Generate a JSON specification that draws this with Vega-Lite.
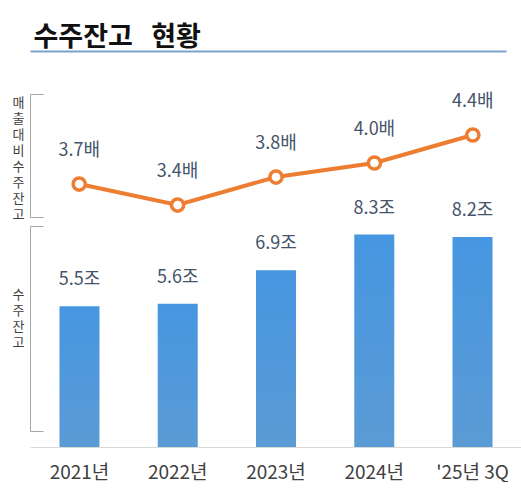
{
  "$schema": "https://vega.github.io/schema/vega-lite/v6.json",
  "autosize": {"type": "pad"},
  "padding": {"left": 12, "top": 23, "right": 0, "bottom": 0},
  "background": "white",
  "config": {"font": "Noto Sans CJK KR", "view": {"stroke": null}},
  "datasets": {
    "backlog": [
      {"year": "2021년", "backlog": 5.5, "backlog_label": "5.5조", "ratio": 3.7, "ratio_label": "3.7배"},
      {"year": "2022년", "backlog": 5.6, "backlog_label": "5.6조", "ratio": 3.4, "ratio_label": "3.4배"},
      {"year": "2023년", "backlog": 6.9, "backlog_label": "6.9조", "ratio": 3.8, "ratio_label": "3.8배"},
      {"year": "2024년", "backlog": 8.3, "backlog_label": "8.3조", "ratio": 4.0, "ratio_label": "4.0배"},
      {"year": "'25년 3Q", "backlog": 8.2, "backlog_label": "8.2조", "ratio": 4.4, "ratio_label": "4.4배"}
    ]
  },
  "bounds": "flush",
  "spacing": 9,
  "resolve": {"scale": {"x": "independent", "y": "independent"}},
  "vconcat": [
    {
      "width": 476,
      "height": 34,
      "data": {"name": "backlog"},
      "mark": {"type": "point", "opacity": 0},
      "encoding": {
        "x": {
          "field": "year",
          "type": "nominal",
          "sort": null,
          "axis": {
            "orient": "top",
            "domainColor": "#7aa3cc",
            "domainWidth": 2,
            "labels": false,
            "ticks": false,
            "title": "수주잔고\u00a0\u00a0\u00a0현황",
            "titleAnchor": "start",
            "titleAlign": "left",
            "titleX": 3,
            "titleY": -6,
            "titleBaseline": "alphabetic",
            "titleFontSize": 27,
            "titleFontWeight": "bold",
            "titleColor": "#111111"
          }
        }
      }
    },
    {
      "width": 492,
      "height": 123,
      "data": {"name": "backlog"},
      "encoding": {
        "x": {
          "field": "year",
          "type": "nominal",
          "sort": null,
          "scale": {"paddingInner": 0.593, "paddingOuter": 0.3},
          "axis": null
        },
        "y": {
          "field": "ratio",
          "type": "quantitative",
          "scale": {"domain": [3.2286, 4.9857], "zero": false, "nice": false},
          "axis": {
            "values": [3.2286, 4.9857],
            "domainColor": "#a6a6a6",
            "tickColor": "#a6a6a6",
            "tickSize": -13,
            "labels": false,
            "grid": false,
            "title": ["매", "출", "대", "비", "수", "주", "잔", "고"],
            "titleAngle": 0,
            "titleAlign": "center",
            "titleBaseline": "top",
            "titleX": -12,
            "titleY": 2,
            "titleLineHeight": 16.1,
            "titleFontSize": 13,
            "titleFontWeight": "normal",
            "titleColor": "#404040"
          }
        }
      },
      "layer": [
        {"mark": {"type": "line", "color": "#ed7d31", "strokeWidth": 4}},
        {
          "mark": {
            "type": "point",
            "filled": true,
            "fill": "white",
            "stroke": "#ed7d31",
            "strokeWidth": 3.5,
            "size": 150,
            "opacity": 1
          }
        },
        {
          "mark": {"type": "text", "dy": -33, "fontSize": 18, "color": "#44546a"},
          "encoding": {"text": {"field": "ratio_label"}}
        }
      ]
    },
    {
      "width": 492,
      "height": 205,
      "data": {"name": "backlog"},
      "encoding": {
        "x": {
          "field": "year",
          "type": "nominal",
          "sort": null,
          "scale": {"paddingInner": 0.593, "paddingOuter": 0.3},
          "axis": {
            "offset": 16,
            "domainColor": "#d9d9d9",
            "ticks": false,
            "labelAngle": 0,
            "labelFontSize": 19,
            "labelColor": "#404040",
            "labelPadding": 16,
            "title": null
          }
        },
        "y": {
          "field": "backlog",
          "type": "quantitative",
          "scale": {"domain": [0.625, 8.633], "zero": false, "nice": false},
          "axis": {
            "values": [0.625, 8.633],
            "domainColor": "#a6a6a6",
            "tickColor": "#a6a6a6",
            "tickSize": -13,
            "labels": false,
            "grid": false,
            "title": ["수", "주", "잔", "고"],
            "titleAngle": 0,
            "titleAlign": "center",
            "titleBaseline": "top",
            "titleX": -12,
            "titleY": 62,
            "titleLineHeight": 16.1,
            "titleFontSize": 13,
            "titleFontWeight": "normal",
            "titleColor": "#404040"
          }
        }
      },
      "layer": [
        {
          "mark": {
            "type": "bar",
            "color": {
              "gradient": "linear",
              "x1": 0, "y1": 0, "x2": 0, "y2": 1,
              "stops": [
                {"offset": 0, "color": "#4696e1"},
                {"offset": 1, "color": "#5b9bd5"}
              ]
            }
          },
          "encoding": {"y2": {"datum": 0}}
        },
        {
          "mark": {"type": "text", "dy": -26, "fontSize": 18, "color": "#44546a"},
          "encoding": {"text": {"field": "backlog_label"}}
        }
      ]
    }
  ]
}
